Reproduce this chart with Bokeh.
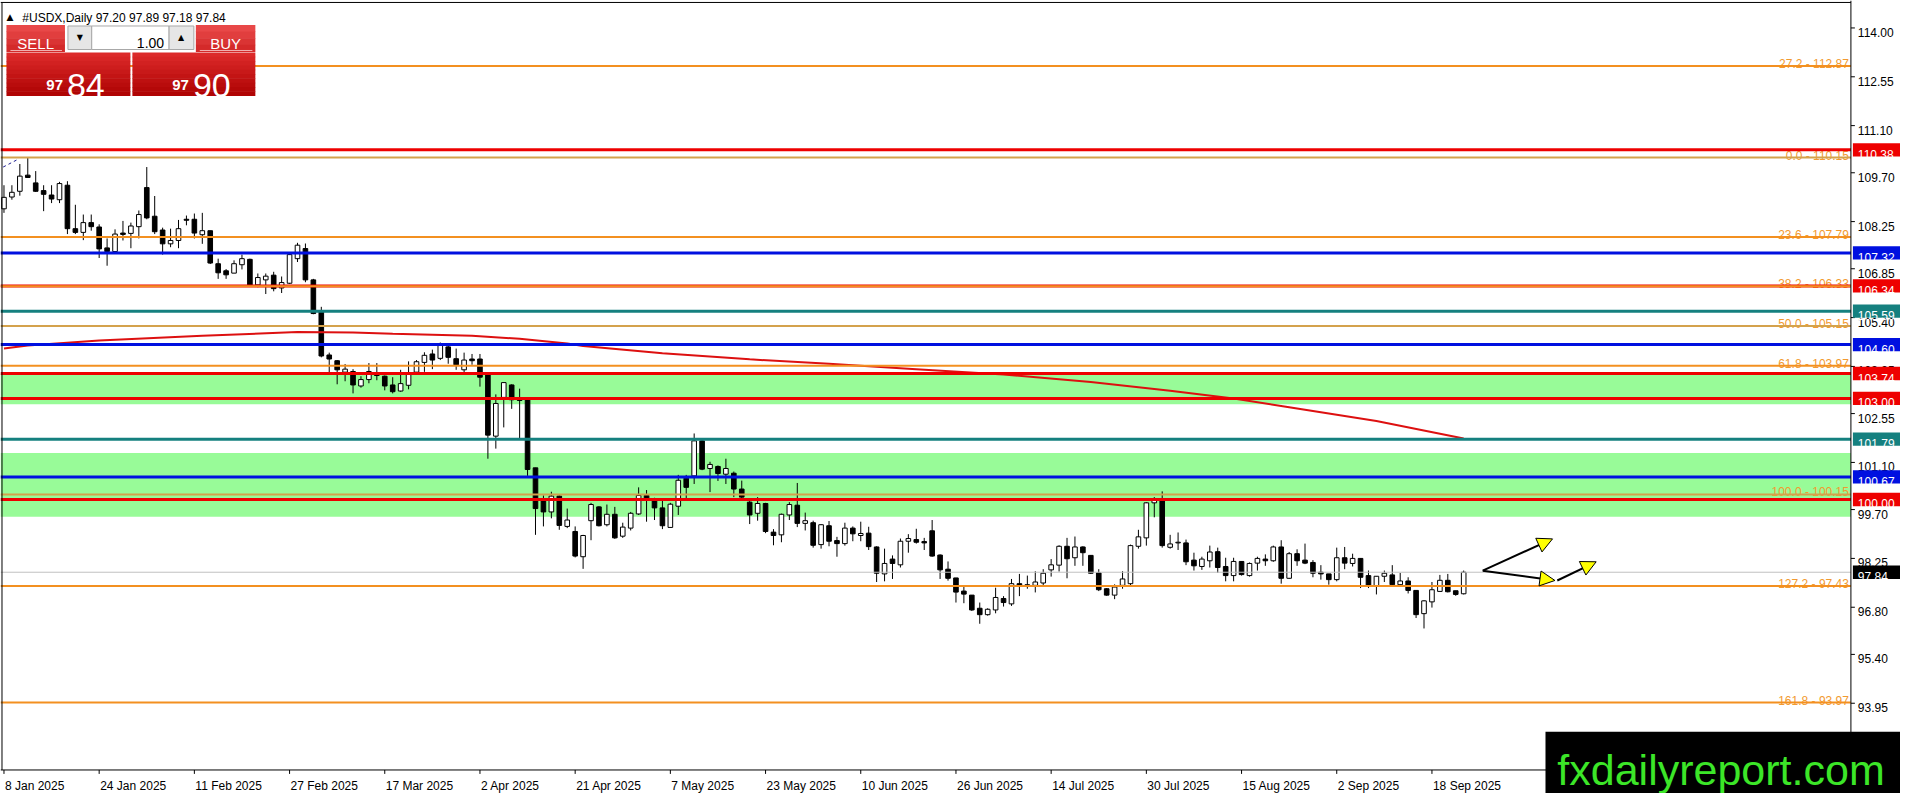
import numpy as np
from bokeh.plotting import figure
from bokeh.models import Range1d, Arrow, NormalHead, ColumnDataSource
from bokeh.core.properties import value
from bokeh.embed import file_html
from bokeh.resources import INLINE

# ----------------------------------------------------------------- data
symbol = "#USDX,Daily"
last_bar = [97.20, 97.89, 97.18, 97.84]      # open, high, low, close of the current bar
bid_price = 97.84
ask_price = 97.90
lot_size = "1.00"

opens = [108.63, 108.98, 109.15, 109.63, 109.40, 109.17, 109.04, 108.90, 109.33, 108.04,
         107.93, 108.22, 108.09, 107.47, 107.36, 107.91, 107.90, 108.10, 109.26, 108.41,
         108.00, 107.59, 107.69, 108.32, 108.32, 107.86, 107.98, 107.00, 106.79, 106.72,
         106.97, 107.13, 106.37, 106.52, 106.66, 106.28, 106.42, 107.15, 107.45, 106.52,
         105.60, 104.29, 104.12, 103.78, 103.80, 103.37, 103.56, 103.71, 103.66, 103.40,
         103.22, 103.39, 103.78, 104.07, 104.32, 104.19, 104.53, 104.18, 103.85, 104.17,
         104.17, 103.71, 101.88, 103.03, 103.40, 102.96, 102.96, 100.94, 99.97, 99.63,
         100.10, 99.20, 99.05, 98.30, 99.37, 99.78, 99.25, 99.56, 98.91, 99.15,
         99.57, 100.12, 99.97, 99.75, 99.17, 99.80, 100.63, 100.70, 101.74, 100.92,
         100.98, 100.75, 100.78, 100.31, 99.92, 99.59, 99.88, 99.03, 98.95, 99.54,
         99.83, 99.29, 99.31, 98.66, 99.22, 98.78, 98.69, 99.15, 98.93, 99.00,
         98.59, 97.79, 98.23, 98.06, 98.76, 98.81, 98.75, 99.07, 98.35, 97.93,
         97.67, 97.28, 97.16, 96.77, 96.58, 96.72, 97.06, 96.90, 97.50, 97.42,
         97.45, 97.52, 97.91, 98.05, 98.61, 98.27, 98.59, 98.34, 97.82, 97.35,
         97.16, 97.45, 97.50, 98.61, 98.86, 99.90, 99.99, 98.58, 98.71, 98.71,
         98.20, 98.01, 98.18, 98.45, 98.01, 97.74, 98.16, 97.74, 98.11, 98.23,
         98.18, 98.59, 97.66, 98.39, 98.20, 98.13, 97.84, 97.79, 97.62, 98.27,
         98.10, 98.25, 97.74, 97.43, 97.72, 97.76, 97.47, 97.58, 97.30, 96.61,
         96.96, 97.27, 97.60, 97.29, 97.20]
highs = [109.33, 109.33, 109.96, 110.14, 109.75, 109.33, 109.33, 109.43, 109.45, 108.75,
         108.46, 108.46, 108.17, 107.75, 108.02, 108.27, 108.22, 108.58, 109.87, 109.01,
         108.07, 108.04, 108.30, 108.43, 108.49, 108.51, 107.98, 107.15, 106.84, 107.10,
         107.27, 107.15, 106.71, 106.71, 106.76, 106.62, 107.30, 107.62, 107.60, 106.55,
         105.72, 104.36, 104.14, 104.02, 103.87, 103.66, 104.05, 104.05, 103.68, 103.63,
         103.85, 104.10, 104.14, 104.37, 104.45, 104.66, 104.58, 104.48, 104.36, 104.32,
         104.32, 103.72, 103.12, 103.48, 103.42, 103.29, 102.97, 100.94, 100.12, 100.23,
         100.12, 99.73, 99.20, 98.95, 99.90, 99.80, 99.85, 99.78, 99.31, 99.63,
         100.36, 100.28, 100.05, 100.04, 99.90, 100.73, 100.73, 101.96, 101.77, 101.12,
         101.01, 101.21, 100.83, 100.56, 99.99, 100.07, 99.90, 99.12, 99.58, 99.92,
         100.49, 99.61, 99.37, 99.27, 99.36, 98.89, 99.31, 99.20, 99.34, 99.19,
         98.61, 98.54, 98.34, 98.84, 98.97, 99.13, 98.86, 99.39, 98.37, 98.16,
         97.67, 97.45, 97.16, 96.94, 96.77, 97.38, 97.13, 97.64, 97.79, 97.74,
         97.87, 97.93, 98.23, 98.64, 98.86, 98.90, 98.61, 98.34, 97.93, 97.37,
         97.48, 97.87, 98.66, 99.10, 99.92, 100.07, 100.24, 98.95, 99.02, 98.81,
         98.42, 98.30, 98.63, 98.57, 98.27, 98.27, 98.16, 98.13, 98.30, 98.37,
         98.63, 98.79, 98.44, 98.52, 98.69, 98.20, 98.05, 97.79, 98.57, 98.59,
         98.39, 98.25, 97.89, 97.72, 97.89, 98.05, 97.82, 97.69, 97.30, 97.01,
         97.55, 97.76, 97.79, 97.29, 97.89]
lows = [108.51, 108.90, 109.02, 109.55, 109.13, 108.56, 108.80, 108.80, 107.88, 107.88,
        107.70, 107.98, 107.17, 106.94, 107.36, 107.69, 107.46, 107.75, 108.32, 107.88,
        107.27, 107.49, 107.46, 108.14, 107.75, 107.59, 106.99, 106.55, 106.55, 106.72,
        106.83, 106.35, 106.30, 106.10, 106.18, 106.13, 106.40, 107.05, 106.45, 105.50,
        104.22, 103.78, 103.42, 103.51, 103.15, 103.32, 103.45, 103.54, 103.24, 103.15,
        103.20, 103.27, 103.77, 103.79, 103.87, 104.14, 104.03, 103.85, 103.76, 104.00,
        103.35, 101.21, 101.51, 102.14, 102.69, 101.82, 100.70, 98.95, 99.20, 99.44,
        99.10, 99.15, 98.28, 97.94, 98.79, 99.20, 99.20, 98.83, 98.86, 99.08,
        99.54, 99.34, 99.39, 99.12, 99.17, 99.54, 100.02, 100.46, 100.87, 100.22,
        100.55, 100.46, 100.07, 100.02, 99.27, 99.37, 99.00, 98.64, 98.73, 99.39,
        99.18, 99.08, 98.57, 98.54, 98.61, 98.30, 98.63, 98.76, 98.76, 98.50,
        97.55, 97.57, 97.64, 97.98, 98.42, 98.69, 98.50, 98.30, 97.64, 97.59,
        96.94, 96.92, 96.69, 96.31, 96.55, 96.62, 96.82, 96.84, 97.13, 97.35,
        97.24, 97.45, 97.71, 97.86, 97.66, 98.03, 98.03, 97.79, 97.28, 97.14,
        97.04, 97.35, 97.45, 98.54, 98.63, 99.47, 98.57, 98.54, 98.50, 98.05,
        97.89, 97.91, 97.98, 97.82, 97.57, 97.57, 97.74, 97.71, 97.89, 98.03,
        98.15, 97.50, 97.64, 98.03, 98.08, 97.69, 97.62, 97.47, 97.57, 97.93,
        98.01, 97.37, 97.37, 97.18, 97.55, 97.45, 97.45, 97.21, 96.48, 96.17,
        96.79, 97.26, 97.24, 97.14, 97.18]
closes = [108.97, 109.12, 109.60, 109.56, 109.15, 109.06, 108.92, 109.38, 108.04, 107.93,
          108.22, 108.10, 107.44, 107.36, 107.88, 107.87, 108.12, 108.46, 108.36, 107.95,
          107.59, 107.69, 108.04, 108.29, 107.91, 107.98, 107.02, 106.73, 106.67, 107.00,
          107.15, 106.37, 106.59, 106.63, 106.26, 106.44, 107.27, 107.55, 106.52, 105.52,
          104.26, 104.17, 103.85, 103.87, 103.40, 103.56, 103.80, 103.68, 103.37, 103.20,
          103.44, 103.71, 104.09, 104.28, 104.14, 104.63, 104.22, 104.00, 104.14, 104.12,
          103.63, 101.91, 102.85, 103.47, 102.96, 102.94, 100.89, 99.73, 99.63, 100.10,
          99.23, 99.39, 98.32, 98.93, 99.85, 99.22, 99.56, 98.86, 99.18, 99.59,
          100.12, 99.97, 99.75, 99.22, 99.86, 100.57, 100.36, 101.74, 100.90, 101.04,
          100.77, 100.92, 100.31, 100.07, 99.54, 99.88, 99.05, 98.93, 99.56, 99.85,
          99.29, 99.37, 98.64, 99.25, 98.76, 98.69, 99.15, 98.98, 98.99, 98.60,
          97.81, 98.10, 98.10, 98.76, 98.84, 98.73, 98.71, 98.32, 97.91, 97.66,
          97.25, 97.19, 96.72, 96.58, 96.74, 97.09, 96.94, 97.50, 97.43, 97.47,
          97.55, 97.81, 98.06, 98.61, 98.24, 98.59, 98.42, 97.81, 97.32, 97.16,
          97.40, 97.64, 98.63, 98.89, 99.90, 99.97, 98.63, 98.68, 98.73, 98.15,
          98.03, 98.23, 98.44, 97.98, 97.74, 98.16, 97.77, 98.10, 98.25, 98.18,
          98.59, 97.66, 98.39, 98.18, 98.11, 97.81, 97.79, 97.62, 98.27, 98.11,
          98.25, 97.69, 97.43, 97.72, 97.81, 97.47, 97.58, 97.30, 96.58, 96.99,
          97.32, 97.60, 97.26, 97.18, 97.84]

# bottom scale: bar index of each date label (one label every 12 bars)
date_ticks = [0, 12, 24, 36, 48, 60, 72, 84, 96, 108, 120, 132, 144, 156, 168, 180]
date_labels = ["8 Jan 2025", "24 Jan 2025", "11 Feb 2025", "27 Feb 2025", "17 Mar 2025",
               "2 Apr 2025", "21 Apr 2025", "7 May 2025", "23 May 2025", "10 Jun 2025",
               "26 Jun 2025", "14 Jul 2025", "30 Jul 2025", "15 Aug 2025", "2 Sep 2025",
               "18 Sep 2025"]

# right price scale
price_ticks = [93.95, 95.40, 96.80, 98.25, 99.70, 101.10, 102.55, 103.95, 105.40,
               106.85, 108.25, 109.70, 111.10, 112.55, 114.00]
price_tick_labels = ["93.95", "95.40", "96.80", "98.25", "99.70", "101.10", "102.55",
                     "103.95", "105.40", "106.85", "108.25", "109.70", "111.10", "112.55",
                     "114.00"]

# Fibonacci levels
fib_ratios = ["27.2", "0.0", "23.6", "38.2", "50.0", "61.8", "100.0", "127.2", "161.8"]
fib_prices = [112.87, 110.15, 107.79, 106.33, 105.15, 103.97, 100.15, 97.43, 93.97]
fib_muted = ["0.0", "50.0", "100.0"]

# horizontal support / resistance lines
red_levels = [110.38, 106.34, 103.74, 103.00, 100.00]
blue_levels = [107.32, 104.60, 100.67]
teal_levels = [105.59, 101.79]

# green zones
zone_top = [103.74, 101.38]
zone_bottom = [102.83, 99.49]

# moving average (bar index, value)
ma_bars = [0, 3, 12, 25, 37, 44, 49, 54, 59, 65, 71, 73, 83, 94, 104, 115, 126, 137,
           147, 155, 162, 173, 184]
ma_values = [104.48, 104.57, 104.72, 104.86, 104.97, 104.96, 104.92, 104.89, 104.86,
             104.77, 104.63, 104.56, 104.34, 104.16, 104.03, 103.87, 103.71, 103.49,
             103.23, 103.00, 102.74, 102.33, 101.81]

# short dashed trend line at top-left
trend_bars = [-0.1, 1.85]
trend_values = [109.87, 110.11]

# yellow arrows (bar index, price)
arrow_x0 = [186.4, 186.4, 195.8]
arrow_y0 = [97.885, 97.885, 97.595]
arrow_x1 = [195.2, 195.5, 200.7]
arrow_y1 = [98.83, 97.595, 98.15]

watermark = "fxdailyreport.com"

# ------------------------------------------------------------- geometry
# the whole terminal window (1916 x 809 px) is mapped onto the canvas; bars are
# 8 px apart and the price scale is 34.36 px per point, as in the terminal.
W, H = 1900, 793
WIN_W, WIN_H = 1916, 809
AXIS_X, AXIS_Y, TOP_Y = 1866, 785, 2
BAR0_PX, BAR_PX = 3.5, 8.0
Y_REF_PRICE, Y_REF_PX, PX_PER_UNIT = 114.0, 28.0, 34.36


def bx(px):
    return (px - BAR0_PX) / BAR_PX


def py(ypx):
    return Y_REF_PRICE - (ypx - Y_REF_PX) / PX_PER_UNIT


XR = Range1d(bx(0), bx(WIN_W))
YR = Range1d(py(WIN_H), py(0))
X_LEFT, X_AXIS = bx(0), bx(AXIS_X)

FONT = "Liberation Sans"

p = figure(width=W, height=H, x_range=XR, y_range=YR, output_backend="svg",
           toolbar_location=None, x_axis_location=None, y_axis_location=None,
           min_border=0, background_fill_color="white", border_fill_color="white",
           outline_line_color=None)
p.grid.visible = False


def hlines(levels, color, width):
    n = len(levels)
    p.segment(x0=[X_LEFT] * n, x1=[X_AXIS] * n, y0=levels, y1=levels,
              line_color=color, line_width=width)


# green zones (background)
p.quad(left=[X_LEFT] * 2, right=[X_AXIS] * 2, top=zone_top, bottom=zone_bottom,
       fill_color="#98fb98", line_color=None)

# candles
idx = np.arange(len(opens))
o = np.array(opens)
c = np.array(closes)
up = c >= o
p.segment(x0=idx, y0=lows, x1=idx, y1=highs, line_color="black", line_width=1)
p.vbar(x=idx[up], top=c[up], bottom=o[up], width=0.58, fill_color="white",
       line_color="black", line_width=1)
p.vbar(x=idx[~up], top=o[~up], bottom=c[~up], width=0.58, fill_color="black",
       line_color="black", line_width=1)

# moving average
p.line(ma_bars, ma_values, line_color="#dd1010", line_width=2)

# fib texts
fib_text = [f"{r} - {v:.2f}" for r, v in zip(fib_ratios, fib_prices)]
p.text(x=[X_AXIS] * len(fib_prices), y=fib_prices, text=fib_text, text_align="right",
       text_baseline="alphabetic", x_offset=-2, y_offset=-2, text_color="#f29a30",
       text_font=value(FONT), text_font_size="12px")

# bid line
hlines([bid_price], "#c0c0c0", 1)

# coloured levels
RED, BLUE, TEAL = "#ee0000", "#0010e0", "#15807f"
hlines(teal_levels, TEAL, 3)
hlines(blue_levels, BLUE, 3)
hlines(red_levels, RED, 3)

# fib lines
fib_main = [v for r, v in zip(fib_ratios, fib_prices) if r not in fib_muted]
fib_soft = [v for r, v in zip(fib_ratios, fib_prices) if r in fib_muted]
hlines(fib_main, "#f39020", 2)
hlines(fib_soft, "#d4a24c", 2)

# dashed trend line
p.line(trend_bars, trend_values, line_color="#1a1a90", line_width=1, line_dash="3 3")

# ------------------------------------------------------------- scales
# chart frame: top and left border, price axis line, time axis line
p.segment(x0=[X_LEFT, bx(1.5), X_AXIS, X_LEFT], x1=[X_AXIS, bx(1.5), X_AXIS, X_AXIS],
          y0=[py(TOP_Y), py(TOP_Y), py(0), py(AXIS_Y)],
          y1=[py(TOP_Y), py(AXIS_Y), py(AXIS_Y), py(AXIS_Y)],
          line_color="black", line_width=1)
# price scale ticks and labels
n_pt = len(price_ticks)
p.segment(x0=[X_AXIS] * n_pt, x1=[bx(AXIS_X + 4)] * n_pt, y0=price_ticks, y1=price_ticks,
          line_color="black", line_width=1)
p.text(x=[bx(AXIS_X + 7)] * n_pt, y=price_ticks, text=price_tick_labels,
       text_align="left", text_baseline="alphabetic", y_offset=4.5,
       text_font=value(FONT), text_font_size="12px", text_color="black")
# time scale ticks and labels
n_dt = len(date_ticks)
p.segment(x0=date_ticks, x1=date_ticks, y0=[py(AXIS_Y)] * n_dt, y1=[py(AXIS_Y + 4)] * n_dt,
          line_color="black", line_width=1)
p.text(x=date_ticks, y=[py(AXIS_Y)] * n_dt, text=date_labels, text_align="left",
       text_baseline="alphabetic", x_offset=1, y_offset=16.5,
       text_font=value(FONT), text_font_size="12px", text_color="black")

# price tags on the price scale
TAG_HALF = 6.8 / PX_PER_UNIT
for levels, col in ((red_levels, RED), (blue_levels, BLUE), (teal_levels, TEAL),
                    ([bid_price], "black")):
    n = len(levels)
    p.quad(left=[bx(AXIS_X + 2)] * n, right=[bx(WIN_W + 5)] * n,
           top=[v + TAG_HALF for v in levels], bottom=[v - TAG_HALF for v in levels],
           fill_color=col, line_color=None)
    p.text(x=[bx(AXIS_X + 7)] * n, y=levels, text=[f"{v:.2f}" for v in levels],
           text_align="left", text_baseline="alphabetic", y_offset=4.5,
           text_font=value(FONT), text_font_size="12px", text_color="white")

# arrows
asrc = ColumnDataSource(dict(x0=arrow_x0, y0=arrow_y0, x1=arrow_x1, y1=arrow_y1))
p.add_layout(Arrow(source=asrc, x_start="x0", y_start="y0", x_end="x1", y_end="y1",
                   line_color="black", line_width=2,
                   end=NormalHead(size=15, fill_color="#ffff00", line_color="black",
                                  line_width=1)))

# ---------------------------------------------------- one-click trading panel
hdr = f"{symbol}  " + " ".join(f"{v:.2f}" for v in last_bar)
p.text(x=[bx(6)], y=[py(17)], text=["▲"], text_font=value("DejaVu Sans"),
       text_font_size="9px", text_baseline="alphabetic", text_color="black")
p.text(x=[bx(22)], y=[py(18)], text=[hdr], text_font=value(FONT), text_font_size="12px",
       text_baseline="alphabetic", text_color="black")


def box(l, t, r, b, fill, line=None):
    p.quad(left=[bx(l)], right=[bx(r)], top=[py(t)], bottom=[py(b)], fill_color=fill,
           line_color=line)


def gradient_box(l, t, r, b, c0, c1, n=10):
    c0 = np.array([int(c0[i:i + 2], 16) for i in (1, 3, 5)])
    c1 = np.array([int(c1[i:i + 2], 16) for i in (1, 3, 5)])
    edges = np.linspace(t, b, n + 1)
    for k in range(n):
        f = k / (n - 1)
        col = "#%02x%02x%02x" % tuple((c0 * (1 - f) + c1 * f).astype(int))
        box(l, edges[k], r, edges[k + 1] + 0.5, col)


# small SELL / BUY buttons
gradient_box(6, 25, 65, 52, "#e84848", "#d42a2a", 4)
gradient_box(197, 25, 257, 52, "#e84848", "#d42a2a", 4)
p.segment(x0=[bx(10), bx(201)], y0=[py(51), py(51)], x1=[bx(62), bx(254)],
          y1=[py(51), py(51)], line_color="#f2b0b0", line_width=1)
# lot spinner
box(68, 26, 92, 50, "#e6e6e6", "#a8a8a8")
box(92, 26, 170, 50, "white", "#a8a8a8")
box(170, 26, 195, 50, "#e6e6e6", "#a8a8a8")
p.text(x=[bx(80), bx(182)], y=[py(38), py(38)], text=["▼", "▲"], text_align="center",
       text_baseline="middle", text_font=value("DejaVu Sans"), text_font_size="8px",
       text_color="black")
p.text(x=[bx(165)], y=[py(43)], text=[lot_size], text_align="right",
       text_baseline="alphabetic", text_font=value(FONT), text_font_size="14px",
       text_color="black")
p.text(x=[bx(35.5), bx(227)], y=[py(44), py(44)], text=["SELL", "BUY"], text_align="center",
       text_baseline="alphabetic", text_font=value(FONT), text_font_size="15px",
       text_color="white")
# big price boxes
gradient_box(6, 53, 131, 97, "#dc2a2a", "#b00404", 10)
gradient_box(133, 53, 257, 97, "#dc2a2a", "#b00404", 10)
sell_big, buy_big = f"{bid_price:.2f}".split("."), f"{ask_price:.2f}".split(".")
p.text(x=[bx(63), bx(190)], y=[py(86), py(86)], text=[sell_big[0], buy_big[0]],
       text_align="right", text_baseline="alphabetic", text_font=value(FONT),
       text_font_size="15px", text_font_style="bold", text_color="white")
p.text(x=[bx(67), bx(194)], y=[py(86.5), py(86.5)], text=[sell_big[1], buy_big[1]],
       text_align="left", text_baseline="alphabetic", text_font=value(FONT),
       text_font_size="34px", text_color="white")

# ---------------------------------------------------------------- watermark
box(1558, 746, WIN_W + 5, WIN_H + 5, "black")
p.text(x=[bx(1735)], y=[py(785)], text=[watermark], text_align="center",
       text_baseline="alphabetic", text_font=value(FONT), text_font_size="43px",
       text_color="#3ce628")

open("out.html", "w").write(file_html(p, INLINE))
